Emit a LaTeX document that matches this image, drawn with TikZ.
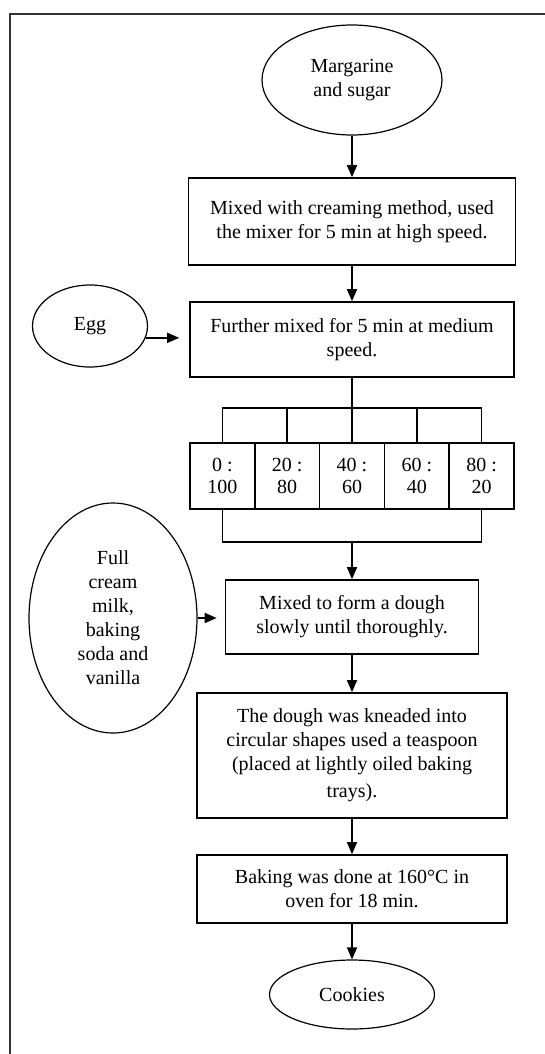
\documentclass[tikz,border=0pt]{standalone}
\usepackage{fontspec}
\setmainfont{Liberation Serif}
\usetikzlibrary{shapes.geometric,arrows.meta}
\tikzset{
	procbox/.style={draw,rectangle,align=center,inner sep=0pt,line width=1.6pt},
	oval/.style={draw,ellipse,align=center,inner sep=0pt,line width=1.2pt},
	arr/.style={line width=1.6pt,-{Triangle[width=10pt,length=12pt]}},
	link/.style={line width=1.6pt}
}
\begin{document}
\begin{tikzpicture}[x=1pt,y=-1pt,font=\fontsize{20}{24}\selectfont]
	\useasboundingbox (0,0) rectangle (545,1054);
	\def\mid{352}
	\def\cell{64.8}
	%frame
	\draw[line width=1.4pt,black!80] (545,14) -- (10,14) -- (10,1054);
	%main column
	\node[oval,minimum width=180pt,minimum height=110pt] (marg) at (\mid,80) {Margarine\\and sugar};
	\node[procbox,minimum width=327pt,minimum height=87pt] (cream) at (\mid,221.5) {Mixed with creaming method, used\\the mixer for 5 min at high speed.};
	\node[procbox,minimum width=324pt,minimum height=75pt] (further) at (\mid,339.5) {Further mixed for 5 min at medium\\speed.};
	\node[procbox,minimum width=253pt,minimum height=74pt] (dough) at (\mid,617) {Mixed to form a dough\\slowly until thoroughly.};
	\node[procbox,minimum width=310pt,minimum height=125pt] (knead) at (\mid,755.5) {The dough was kneaded into\\circular shapes used a teaspoon\\(placed at lightly oiled baking\\[3pt]trays).};
	\node[procbox,minimum width=310pt,minimum height=68pt] (bake) at (\mid,889) {Baking was done at 160°C in\\oven for 18 min.};
	\node[oval,minimum width=165pt,minimum height=69pt] (cookies) at (\mid,994.5) {Cookies};
	%side inputs
	\node[oval,minimum width=115pt,minimum height=82pt] (egg) at (90,326) {Egg};
	\node[oval,minimum width=168pt,minimum height=230pt] (milk) at (113,618) {Full\\cream\\milk,\\baking\\soda and\\vanilla};
	%ratios
	\foreach \i/\a/\b in {1/0/100,2/20/80,3/40/60,4/60/40,5/80/20}
		\node[procbox,minimum width=\cell pt,minimum height=66pt,font=\fontsize{20}{22}\selectfont] (r\i) at ({\mid+\cell*(\i-3)},476) {\a\ :\\\b};
	\coordinate (topbar) at (\mid,408);
	\coordinate (botbar) at (\mid,542);
	\draw[link] (further.south) -- (topbar);
	\draw[link] (r1.north) |- (topbar) -| (r5.north);
	\foreach \i in {2,3,4}
		\draw[link] (r\i.north) -- (r\i.north |- topbar);
	\draw[link] (r1.south) |- (botbar) -| (r5.south);
	%arrows
	\draw[arr] (marg) -- (cream);
	\draw[arr] (cream) -- (further);
	\draw[arr] (botbar) -- (dough.north);
	\draw[arr] (dough) -- (knead);
	\draw[arr] (knead) -- (bake);
	\draw[arr] (bake) -- (cookies);
	\draw[arr,shorten >=10pt] (egg.-12) -- (egg.-12 -| further.west);
	\draw[arr,shorten >=8pt] (milk.east) -- (milk.east -| dough.west);
\end{tikzpicture}
\end{document}
